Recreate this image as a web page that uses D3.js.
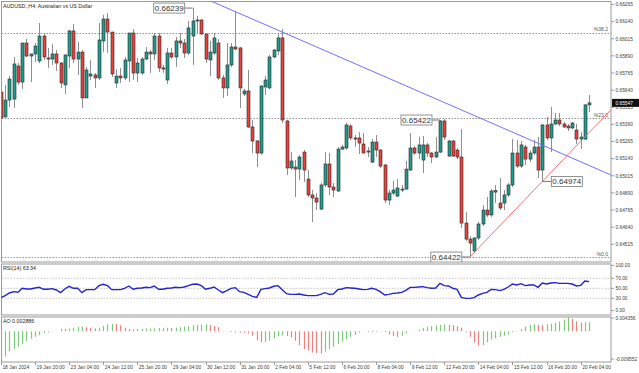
<!DOCTYPE html>
<html>
<head>
<meta charset="utf-8">
<script src="https://cdn.jsdelivr.net/npm/d3@7/dist/d3.min.js"></script>
<style>
  body { margin: 0; background: #fff; }
  svg { display: block; }
  text { font-family: "Liberation Sans", Arial, sans-serif; }
</style>
</head>
<body>
<div id="outer"></div>
<script>
////////// DATA //////////
const symbolTitle = 'AUDUSD.,H4:  Australian vs US Dollar';

const opens = [0.65626,0.65444,0.65568,0.65575,0.65816,0.65699,0.65984,0.65889,0.65904,0.65853,
0.66035,0.65875,0.65867,0.65904,0.65838,0.65678,0.65889,0.66072,0.65867,0.65918,
0.65583,0.65743,0.65751,0.65729,0.65999,0.66159,0.66064,0.65692,0.65743,0.65729,
0.65853,0.66057,0.65765,0.65765,0.65867,0.65918,0.65904,0.66035,0.65802,0.65714,
0.65911,0.65882,0.65999,0.65984,0.65911,0.66035,0.66145,0.66152,0.66050,0.65860,
0.65911,0.65984,0.65729,0.65656,0.65824,0.65955,0.65948,0.65612,0.65634,0.65371,
0.65269,0.65181,0.65663,0.65656,0.65882,0.65926,0.66021,0.65415,0.65072,0.65079,
0.65064,0.65188,0.64991,0.64875,0.64853,0.64772,0.64948,0.65101,0.64933,0.64904,
0.65210,0.65218,0.65378,0.65291,0.65291,0.65247,0.65196,0.65115,0.65261,0.65203,
0.65094,0.64838,0.64889,0.64867,0.64911,0.64918,0.65057,0.65218,0.65181,0.65130,
0.65240,0.65181,0.65152,0.65188,0.65415,0.65159,0.65269,0.65203,0.65152,0.64670,
0.64553,0.64466,0.64561,0.64663,0.64765,0.64729,0.64896,0.64816,0.64816,0.64875,
0.64948,0.65181,0.65086,0.65225,0.65137,0.65181,0.65225,0.65057,0.65386,0.65291,
0.65393,0.65422,0.65393,0.65378,0.65364,0.65349,0.65283,0.65283,0.65532];

const highs = [0.65641,0.65678,0.65743,0.65882,0.65838,0.65984,0.66013,0.65904,0.65984,0.66130,
0.66057,0.65948,0.65977,0.65933,0.65845,0.65897,0.66079,0.66123,0.65991,0.65933,
0.65809,0.65860,0.65765,0.66130,0.66189,0.66203,0.66064,0.65794,0.65802,0.65882,
0.66057,0.66086,0.65875,0.65882,0.65955,0.65933,0.66057,0.66057,0.65824,0.65948,
0.65948,0.66028,0.66057,0.66013,0.66145,0.66239,0.66181,0.66159,0.66057,0.65999,
0.66057,0.66013,0.65751,0.65984,0.65984,0.66218,0.65955,0.65648,0.65787,0.65422,
0.65276,0.65678,0.65743,0.65897,0.65940,0.66057,0.66086,0.65422,0.65188,0.65130,
0.65167,0.65203,0.65057,0.64911,0.64889,0.64962,0.65188,0.65181,0.64962,0.65225,
0.65240,0.65400,0.65393,0.65313,0.65334,0.65327,0.65225,0.65283,0.65313,0.65210,
0.65101,0.64911,0.64977,0.64991,0.64948,0.65123,0.65327,0.65232,0.65298,0.65305,
0.65254,0.65188,0.65298,0.65422,0.65429,0.65276,0.65276,0.65218,0.65356,0.64750,
0.64575,0.64568,0.64677,0.64802,0.64860,0.64918,0.64948,0.64999,0.64911,0.64962,
0.65283,0.65276,0.65269,0.65240,0.65203,0.65276,0.65298,0.65393,0.65444,0.65517,
0.65473,0.65473,0.65407,0.65393,0.65407,0.65393,0.65334,0.65539,0.65605];

const lows = [0.65429,0.65444,0.65517,0.65510,0.65678,0.65648,0.65882,0.65699,0.65845,0.65838,
0.65860,0.65802,0.65824,0.65780,0.65656,0.65612,0.65802,0.65838,0.65751,0.65510,
0.65583,0.65714,0.65656,0.65714,0.65918,0.65911,0.65736,0.65656,0.65692,0.65714,
0.65699,0.65714,0.65699,0.65751,0.65860,0.65765,0.65860,0.65772,0.65765,0.65685,
0.65867,0.65809,0.65948,0.65875,0.65897,0.65824,0.66057,0.66043,0.65838,0.65743,
0.65897,0.65714,0.65583,0.65597,0.65809,0.65933,0.65510,0.65597,0.65364,0.65181,
0.65079,0.65167,0.65605,0.65648,0.65875,0.65897,0.65400,0.65021,0.65057,0.64860,
0.64984,0.64969,0.64860,0.64677,0.64765,0.64765,0.64933,0.64875,0.64860,0.64896,
0.65203,0.65203,0.65276,0.65225,0.65174,0.65181,0.65152,0.65108,0.65152,0.65072,
0.64816,0.64802,0.64875,0.64860,0.64896,0.64918,0.65050,0.65167,0.65137,0.65035,
0.65152,0.65108,0.65145,0.65181,0.65276,0.65152,0.65152,0.65137,0.64634,0.64539,
0.64422,0.64451,0.64546,0.64648,0.64714,0.64714,0.64816,0.64765,0.64765,0.64860,
0.64933,0.65072,0.65072,0.65094,0.65115,0.65167,0.64999,0.64974,0.65276,0.65188,
0.65386,0.65378,0.65364,0.65342,0.65356,0.65247,0.65210,0.65276,0.65480];

const closes = [0.65437,0.65568,0.65721,0.65831,0.65699,0.65984,0.65889,0.65904,0.65962,0.66035,
0.65882,0.65867,0.65904,0.65838,0.65692,0.65897,0.66072,0.65867,0.65918,0.65583,
0.65787,0.65758,0.65729,0.66006,0.66159,0.66064,0.65758,0.65743,0.65729,0.65860,
0.66057,0.65765,0.65838,0.65867,0.65918,0.65904,0.66035,0.65802,0.65794,0.65911,
0.65882,0.65999,0.65984,0.65911,0.66094,0.66145,0.66152,0.66050,0.65867,0.65918,
0.66021,0.65729,0.65656,0.65824,0.65955,0.65940,0.65656,0.65634,0.65371,0.65269,
0.65181,0.65670,0.65714,0.65882,0.65933,0.66021,0.65422,0.65072,0.65123,0.65064,
0.65152,0.65057,0.64875,0.64853,0.64823,0.64948,0.65101,0.64933,0.64911,0.65210,
0.65225,0.65386,0.65291,0.65283,0.65254,0.65181,0.65188,0.65261,0.65203,0.65086,
0.64838,0.64889,0.64911,0.64926,0.64918,0.65064,0.65218,0.65181,0.65240,0.65240,
0.65181,0.65152,0.65188,0.65415,0.65298,0.65269,0.65159,0.65152,0.64670,0.64553,
0.64524,0.64561,0.64663,0.64765,0.64729,0.64904,0.64907,0.64780,0.64875,0.64948,
0.65181,0.65086,0.65240,0.65137,0.65181,0.65225,0.65057,0.65386,0.65291,0.65393,
0.65422,0.65393,0.65371,0.65364,0.65400,0.65283,0.65298,0.65532,0.65547];

const rsiValues = [31.3,35.3,40.6,43.3,42.0,50.0,48.6,48.6,50.6,52.0,
48.0,48.0,49.3,46.6,41.3,48.6,54.0,50.0,50.0,41.3,
47.3,47.3,47.3,55.3,58.0,55.3,47.3,47.3,47.3,50.0,
54.6,48.0,50.0,50.6,52.0,51.3,54.6,48.0,48.0,50.0,
50.6,52.0,51.3,52.6,55.3,58.0,58.6,55.3,48.0,50.0,
52.6,46.6,41.3,45.3,50.0,51.3,43.3,41.9,37.9,33.9,
31.9,47.9,49.3,50.6,54.0,55.3,47.3,39.3,37.9,37.9,
38.6,36.6,35.3,35.3,35.3,37.9,41.3,37.9,38.6,47.3,
48.6,51.3,50.6,50.0,48.6,47.3,47.9,50.0,47.9,43.3,
36.6,37.9,39.9,40.6,41.9,45.9,51.9,51.9,52.6,53.3,
51.3,50.0,50.6,59.9,55.3,54.6,50.0,47.9,31.9,29.9,
29.9,31.3,36.6,39.9,41.9,47.9,47.3,45.3,47.9,52.6,
58.6,56.6,59.3,55.3,56.6,56.6,51.9,60.6,58.6,60.6,
61.3,59.9,59.9,59.9,58.6,54.6,55.9,64.6,63.34];

const aoValues = [-0.0090,-0.0080,-0.0064,-0.0056,-0.0049,-0.0041,-0.0031,-0.0024,-0.0017,-0.0012,
-0.0006,-0.0003,-0.0001,0.0001,0.0008,0.0007,0.0009,0.0011,0.0014,0.0015,
0.0013,0.0011,0.0009,0.0011,0.0017,0.0022,0.0024,0.0023,0.0019,0.0011,
0.0007,0.0006,0.0007,0.0008,0.00085,0.0009,0.00095,0.0010,0.00105,0.0011,
0.0010,0.0011,0.0013,0.0015,0.0017,0.0019,0.0020,0.0021,0.0022,0.0020,
0.0017,0.0013,0.0001,-0.0001,-0.0002,-0.0003,-0.0004,-0.0005,-0.0006,-0.0014,
-0.0028,-0.0035,-0.0034,-0.0030,-0.0022,-0.0016,-0.0013,-0.0015,-0.0020,-0.0030,
-0.0044,-0.0056,-0.0061,-0.0067,-0.0069,-0.0070,-0.0064,-0.0057,-0.0049,-0.0040,
-0.0033,-0.0025,-0.0018,-0.0012,-0.0005,-0.0001,-0.0002,-0.0003,-0.0002,-0.0001,
-0.0003,-0.0010,-0.0015,-0.0017,-0.0014,-0.0007,-0.0001,0.0001,0.0005,0.0011,
0.0015,0.0017,0.0018,0.0020,0.0022,0.0021,0.0019,0.0016,0.0011,-0.0003,
-0.0017,-0.0035,-0.0045,-0.0043,-0.0035,-0.0027,-0.0022,-0.0017,-0.0014,-0.0010,
-0.0003,0.0001,0.0007,0.0015,0.0020,0.0022,0.0021,0.0019,0.0022,0.0024,
0.0027,0.0031,0.0037,0.004356,0.0040,0.0032,0.0028,0.00282,0.002886];

// time axis labels: [bar index, text]
const timeLabels = [[0,'18 Jan 2024'],[8,'19 Jan 20:00'],[16,'23 Jan 04:00'],[24,'24 Jan 12:00'],
[32,'25 Jan 20:00'],[40,'29 Jan 04:00'],[48,'30 Jan 12:00'],[56,'31 Jan 20:00'],[64,'2 Feb 04:00'],
[72,'5 Feb 12:00'],[80,'6 Feb 20:00'],[88,'8 Feb 04:00'],[96,'9 Feb 12:00'],[104,'12 Feb 20:00'],
[112,'14 Feb 04:00'],[120,'15 Feb 12:00'],[128,'16 Feb 20:00'],[136,'20 Feb 04:00']];

const priceTicks = [0.66265,0.66140,0.66015,0.65890,0.65765,0.65640,0.65515,0.65390,
0.65265,0.65140,0.65015,0.64890,0.64765,0.64640,0.64515];
const rsiTicks = [100,70,50,30,0];
const rsiGrid = [70,50,30];
const aoTicks = [0.004356,-0.009552];

// fibonacci retracement (0% at swing low)
const fibLow = 0.64422, fibHigh = 0.68710;
const fibLevels = [0, 23.6, 38.2];

// trendlines: [bar, price] anchors, extended to the right
const blueTrend = [[45, 0.66348], [140, 0.65063]];
const redTrend = [[110, 0.64422], [127, 0.64974]];

// price labels on swing points: [bar, price, side]
const swingLabels = [[45, 0.66239, 'left'], [103, 0.65422, 'left'], [127, 0.64974, 'right'], [110, 0.64422, 'left']];

////////// SIZING //////////
const W = 639, H = 373;
const plotL = 1.5, plotR = 611;
const main = {top: 1.5, bottom: 262};
const rsiP = {top: 264, bottom: 315};
const aoP = {top: 317, bottom: 362};

const colors = {
	up: '#1f9c8c', down: '#e8413c', outline: '#2b2b2b', wick: '#8e8e8e',
	frame: '#9a9a9a', text: '#3c3c3c', grid: '#8a8a8a',
	aoUp: '#7fc87f', aoDown: '#f08080', rsi: '#2323d0',
	blue: '#7070ff', red: '#ff7070'
};

////////// SCALES //////////
const x = d3.scaleLinear().domain([0, 138]).range([0.9, 0.9 + 4.263 * 138]);
const y = d3.scaleLinear().domain([0.64515, 0.66265]).range([244.3, 4.5]);
const yRsi = d3.scaleLinear().domain([0, 100]).range([313.3, 263.3]);
const yAo = d3.scaleLinear().domain([-0.009552, 0.004356]).range([361.5, 317.5]);

////////// SVG //////////
const svg = d3.select('#outer').append('svg')
	.attr('width', W).attr('height', H);

svg.append('rect').attr('width', W).attr('height', H).attr('fill', '#fff');

const defs = svg.append('defs');
defs.append('clipPath').attr('id', 'clipMain').append('rect')
	.attr('x', plotL).attr('y', main.top).attr('width', plotR - plotL).attr('height', main.bottom - main.top);
defs.append('clipPath').attr('id', 'clipRsi').append('rect')
	.attr('x', plotL).attr('y', rsiP.top).attr('width', plotR - plotL).attr('height', rsiP.bottom - rsiP.top);
defs.append('clipPath').attr('id', 'clipAo').append('rect')
	.attr('x', plotL).attr('y', aoP.top).attr('width', plotR - plotL).attr('height', aoP.bottom - aoP.top);

// panel frames
[main, rsiP, aoP].forEach(p => {
	svg.append('rect')
		.attr('x', plotL).attr('y', p.top)
		.attr('width', plotR - plotL).attr('height', p.bottom - p.top)
		.attr('fill', 'none').attr('stroke', colors.frame).attr('stroke-width', 1);
});

// MAIN PANEL //
const mainG = svg.append('g').attr('clip-path', 'url(#clipMain)');

// fib levels
const fibPrice = lv => fibLow + (fibHigh - fibLow) * lv / 100;
mainG.selectAll('.fib').data(fibLevels).join('line')
	.attr('x1', plotL).attr('x2', plotR)
	.attr('y1', d => Math.round(y(fibPrice(d))) + 0.5)
	.attr('y2', d => Math.round(y(fibPrice(d))) + 0.5)
	.attr('stroke', '#777').attr('stroke-width', 0.8).attr('stroke-dasharray', '1.5,1.5');
mainG.selectAll('.fibTxt').data(fibLevels).join('text')
	.attr('x', plotR - 3).attr('y', d => y(fibPrice(d)) - 1.5)
	.attr('text-anchor', 'end').attr('font-size', 5).attr('fill', '#555')
	.text(d => '%' + d.toFixed(1));

// candles
const idx = d3.range(opens.length);
mainG.selectAll('.wick').data(idx).join('line')
	.attr('x1', i => Math.round(x(i)) + 0.5).attr('x2', i => Math.round(x(i)) + 0.5)
	.attr('y1', i => y(highs[i])).attr('y2', i => y(lows[i]))
	.attr('stroke', colors.wick).attr('stroke-width', 1);
mainG.selectAll('.body').data(idx).join('rect')
	.attr('x', i => Math.round(x(i)) - 1)
	.attr('width', 3)
	.attr('y', i => y(Math.max(opens[i], closes[i])))
	.attr('height', i => Math.max(1, Math.abs(y(opens[i]) - y(closes[i]))))
	.attr('fill', i => closes[i] >= opens[i] ? colors.up : colors.down)
	.attr('stroke', colors.outline).attr('stroke-width', 0.6);

// trendlines
function trendPath(a) {
	const [[b1, p1], [b2, p2]] = a;
	const s = (p2 - p1) / (b2 - b1);
	const bEnd = x.invert(plotR + 2);
	return [[x(b1), y(p1)], [x(bEnd), y(p1 + s * (bEnd - b1))]];
}
const blueLine = trendPath(blueTrend);
const blueStart = x.invert(0);
const bs = (blueTrend[1][1] - blueTrend[0][1]) / (blueTrend[1][0] - blueTrend[0][0]);
mainG.append('line')
	.attr('x1', x(blueTrend[0][0])).attr('y1', y(blueTrend[0][1]))
	.attr('x2', blueLine[1][0]).attr('y2', blueLine[1][1])
	.attr('stroke', colors.blue).attr('stroke-width', 1);
const redLine = trendPath(redTrend);
mainG.append('line')
	.attr('x1', redLine[0][0]).attr('y1', redLine[0][1])
	.attr('x2', redLine[1][0]).attr('y2', redLine[1][1])
	.attr('stroke', colors.red).attr('stroke-width', 1);

// swing labels
swingLabels.forEach(([b, p, side]) => {
	const cx = x(b), cy = y(p);
	const bw = 31, bh = 10;
	const bx = side === 'left' ? cx - 8 - bw : cx + 9;
	const g = mainG.append('g');
	g.append('line')
		.attr('x1', side === 'left' ? bx + bw : bx).attr('x2', cx)
		.attr('y1', cy).attr('y2', cy)
		.attr('stroke', '#555').attr('stroke-width', 0.8);
	g.append('rect')
		.attr('x', bx).attr('y', cy - bh / 2).attr('width', bw).attr('height', bh)
		.attr('fill', '#fff').attr('stroke', '#777').attr('stroke-width', 0.8);
	g.append('text')
		.attr('x', bx + bw / 2).attr('y', cy + 3)
		.attr('text-anchor', 'middle').attr('font-size', 8).attr('fill', '#333')
		.text(p.toFixed(5));
});

// title
svg.append('text').attr('x', 3).attr('y', 7.5)
	.attr('font-size', 5.3).attr('fill', '#222').text(symbolTitle);

// right price axis
const axisG = svg.append('g');
axisG.selectAll('.pt').data(priceTicks).join('line')
	.attr('x1', plotR).attr('x2', plotR + 3)
	.attr('y1', d => y(d)).attr('y2', d => y(d))
	.attr('stroke', colors.frame);
axisG.selectAll('.ptxt').data(priceTicks).join('text')
	.attr('x', plotR + 4.5).attr('y', d => y(d) + 1.8)
	.attr('font-size', 4.8).attr('fill', colors.text)
	.text(d => d.toFixed(5));

// current price tag
const last = closes[closes.length - 1];
axisG.append('rect').attr('x', plotR + 1).attr('y', y(last) - 4)
	.attr('width', W - plotR - 1).attr('height', 8).attr('fill', '#111');
axisG.append('text').attr('x', plotR + 4.5).attr('y', y(last) + 1.8)
	.attr('font-size', 4.8).attr('fill', '#fff').text(last.toFixed(5));

// RSI PANEL //
const rsiG = svg.append('g').attr('clip-path', 'url(#clipRsi)');
rsiG.selectAll('.rg').data(rsiGrid).join('line')
	.attr('x1', plotL).attr('x2', plotR)
	.attr('y1', d => yRsi(d)).attr('y2', d => yRsi(d))
	.attr('stroke', '#aaa').attr('stroke-width', 0.7).attr('stroke-dasharray', '1.5,1.5');
rsiG.append('path')
	.datum(rsiValues)
	.attr('d', d3.line().x((d, i) => x(i)).y(d => yRsi(d)))
	.attr('fill', 'none').attr('stroke', colors.rsi).attr('stroke-width', 1.4);
svg.append('text').attr('x', 3).attr('y', 270)
	.attr('font-size', 5.3).attr('fill', '#222')
	.text('RSI(14) ' + rsiValues[rsiValues.length - 1].toFixed(2));
axisG.selectAll('.rt').data(rsiTicks).join('line')
	.attr('x1', plotR).attr('x2', plotR + 3)
	.attr('y1', d => Math.min(Math.max(yRsi(d), rsiP.top + 1.5), rsiP.bottom - 4.5))
	.attr('y2', d => Math.min(Math.max(yRsi(d), rsiP.top + 1.5), rsiP.bottom - 4.5))
	.attr('stroke', colors.frame);
axisG.selectAll('.rtxt').data(rsiTicks).join('text')
	.attr('x', plotR + 4.5)
	.attr('y', d => Math.min(Math.max(yRsi(d), rsiP.top + 1.5), rsiP.bottom - 4.5) + 1.8)
	.attr('font-size', 4.8).attr('fill', colors.text)
	.text(d => d.toFixed(2));

// AO PANEL //
const aoG = svg.append('g').attr('clip-path', 'url(#clipAo)');
aoG.selectAll('.ao').data(aoValues).join('line')
	.attr('x1', (d, i) => Math.round(x(i)) + 0.5).attr('x2', (d, i) => Math.round(x(i)) + 0.5)
	.attr('y1', yAo(0)).attr('y2', d => yAo(d))
	.attr('stroke', (d, i) => (i === 0 || d >= aoValues[i - 1]) ? colors.aoUp : colors.aoDown)
	.attr('stroke-width', 1.2);
svg.append('text').attr('x', 3).attr('y', 323)
	.attr('font-size', 5.3).attr('fill', '#222')
	.text('AO ' + aoValues[aoValues.length - 1].toFixed(6));
axisG.selectAll('.at').data(aoTicks).join('line')
	.attr('x1', plotR).attr('x2', plotR + 3)
	.attr('y1', d => d > 0 ? aoP.top + 1 : aoP.bottom - 3)
	.attr('y2', d => d > 0 ? aoP.top + 1 : aoP.bottom - 3)
	.attr('stroke', colors.frame);
axisG.selectAll('.atxt').data(aoTicks).join('text')
	.attr('x', plotR + 4.5)
	.attr('y', d => (d > 0 ? aoP.top + 1 : aoP.bottom - 3) + 1.8)
	.attr('font-size', 4.8).attr('fill', colors.text)
	.text(d => d.toFixed(6));

// TIME AXIS //
const timeG = svg.append('g');
timeG.selectAll('.tt').data(timeLabels).join('line')
	.attr('x1', d => Math.round(x(d[0])) + 0.5).attr('x2', d => Math.round(x(d[0])) + 0.5)
	.attr('y1', aoP.bottom).attr('y2', aoP.bottom + 3)
	.attr('stroke', colors.frame);
timeG.selectAll('.ttxt').data(timeLabels).join('text')
	.attr('x', d => Math.max(x(d[0]) + 1.5, 2)).attr('y', 369)
	.attr('font-size', 4.9).attr('fill', colors.text)
	.text(d => d[1]);
</script>
</body>
</html>
